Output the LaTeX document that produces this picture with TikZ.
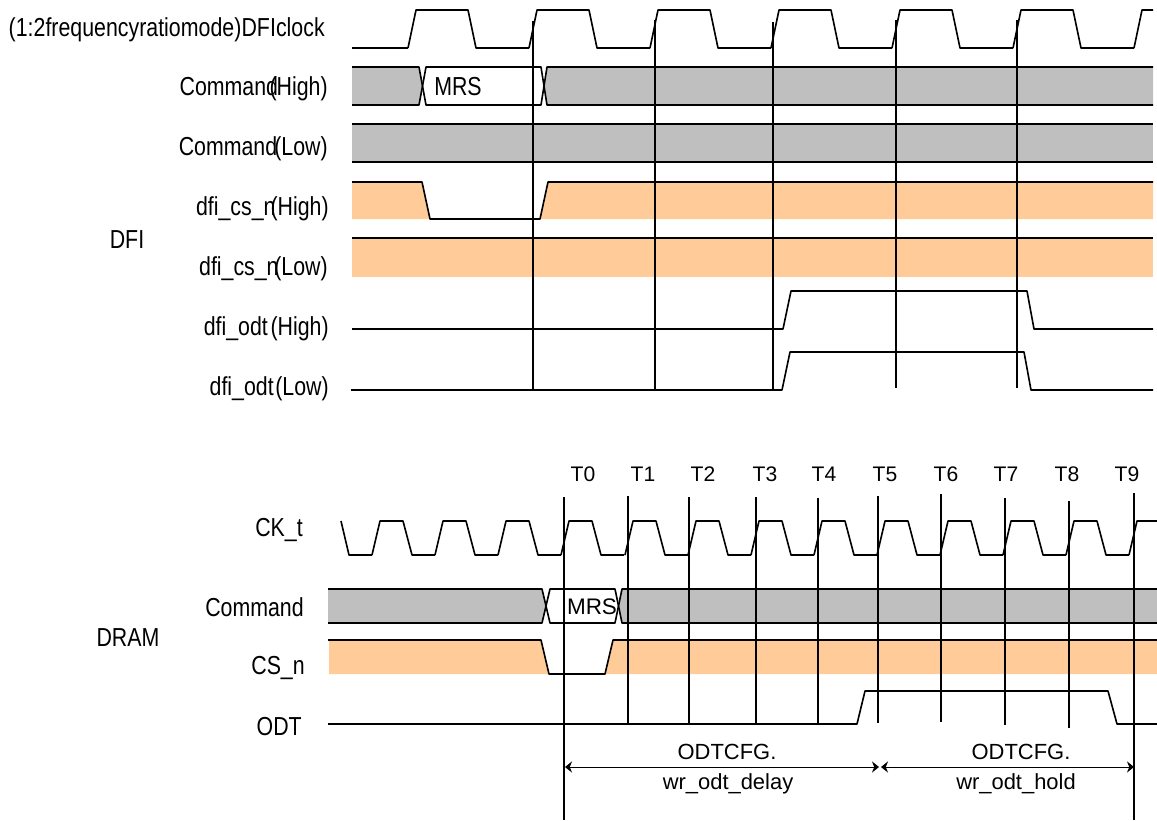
\documentclass[tikz,border=0pt]{standalone}
\usepackage{fontspec}
\setmainfont{Liberation Sans}
\newfontfamily\condfont[FakeStretch=0.82]{Liberation Sans}
\usetikzlibrary{arrows.meta}
\definecolor{busgray}{HTML}{BFBFBF}
\definecolor{csorange}{HTML}{FFCC99}
\newcommand{\sigfont}{\fontsize{18.5}{20}\condfont}
\newcommand{\wordgap}[2]{{\spaceskip=#1 plus 0pt\relax #2}}
\tikzset{
    sigline/.style={line width=1.15pt, line join=round},
    tickline/.style={line width=0.8pt},
    siglabel/.style={anchor=east, inner sep=0pt, font=\sigfont},
    grouplabel/.style={inner sep=0pt, font=\sigfont},
    ticklabel/.style={inner sep=0pt, font=\fontsize{15}{17}\selectfont},
    cfglabel/.style={inner sep=0pt, font=\fontsize{15.6}{18}\selectfont}
}

\begin{document}
\begin{tikzpicture}[x=0.025cm, y=-0.025cm, >={Stealth[length=5pt,width=8pt]}]
    \useasboundingbox (0, 0) rectangle (1157, 821);

    % DFI 的灰色和橙色底
    \fill[busgray] (352, 67) -- (419, 67) -- (423, 86) -- (419, 105) -- (352, 105) -- cycle;
    \fill[busgray] (1153, 67) -- (547, 67) -- (544, 86) -- (547, 105) -- (1153, 105) -- cycle;
    \fill[busgray] (352, 124) rectangle (1153, 162);
    \fill[csorange] (352, 182) -- (422, 182) -- (430, 219) -- (352, 219) -- cycle;
    \fill[csorange] (1153, 182) -- (548, 182) -- (540, 219) -- (1153, 219) -- cycle;
    \fill[csorange] (352, 238) rectangle (1153, 277);

    % DFI 时钟
    \draw[sigline] (352, 48) -- (408, 48);
    \foreach \x in {408, 529, 650, 771, 892, 1013} {
        \draw[sigline] (\x, 48) -- (\x+8, 10) -- (\x+60, 10) -- (\x+68, 48) -- (\x+121, 48);
    }
    \draw[sigline] (1134, 48) -- (1142, 10) -- (1153, 10);

    % DFI 命令
    \draw[sigline] (352, 67) -- (419, 67) -- (426, 105) -- (541, 105) -- (547, 67) -- (1153, 67);
    \draw[sigline] (352, 105) -- (419, 105) -- (426, 67) -- (541, 67) -- (547, 105) -- (1153, 105);
    \draw[sigline] (352, 124) -- (1153, 124);
    \draw[sigline] (352, 162) -- (1153, 162);

    % dfi_cs_n 和 dfi_odt
    \draw[sigline] (352, 182) -- (422, 182) -- (430, 219) -- (540, 219) -- (548, 182) -- (1153, 182);
    \draw[sigline] (352, 238) -- (1153, 238);
    \draw[sigline] (352, 329) -- (783, 329) -- (791, 291) -- (1027, 291) -- (1034, 329) -- (1153, 329);
    \draw[sigline] (351, 390) -- (782, 390) -- (790, 352) -- (1024, 352) -- (1031, 390) -- (1153, 390);

    % DFI 竖线
    \foreach \x/\top/\bot in {533/21/390, 655/20/390, 773/22/390, 896/20/388, 1017/20/388} {
        \draw[tickline] (\x, \top) -- (\x, \bot);
    }

    % DRAM 的灰色和橙色底
    \fill[busgray] (328, 589) -- (542, 589) -- (547, 606) -- (542, 623) -- (328, 623) -- cycle;
    \fill[busgray] (1157, 589) -- (622, 589) -- (618, 606) -- (622, 623) -- (1157, 623) -- cycle;
    \fill[csorange] (329, 640) -- (541, 640) -- (549, 674) -- (329, 674) -- cycle;
    \fill[csorange] (1157, 640) -- (613, 640) -- (605, 674) -- (1157, 674) -- cycle;

    % CK_t
    \draw[sigline] (341, 521) -- (349, 555) -- (372, 555);
    \foreach \x in {372, 435, 498, 561, 625, 688, 751, 814, 877, 940, 1003, 1066} {
        \draw[sigline] (\x, 555) -- (\x+8, 521) -- (\x+31, 521) -- (\x+40, 555) -- (\x+63, 555);
    }
    \draw[sigline] (1129, 555) -- (1137, 521) -- (1157, 521);

    % Command, CS_n, ODT
    \draw[sigline] (328, 589) -- (542, 589) -- (550, 623) -- (615, 623) -- (622, 589) -- (1157, 589);
    \draw[sigline] (328, 623) -- (542, 623) -- (550, 589) -- (615, 589) -- (622, 623) -- (1157, 623);
    \draw[sigline] (328, 640) -- (541, 640) -- (549, 674) -- (605, 674) -- (613, 640) -- (1157, 640);
    \draw[sigline] (328, 724) -- (857, 724) -- (865, 691) -- (1108, 691) -- (1117, 724) -- (1157, 724);

    % DRAM 竖线
    \foreach \x/\top/\bot in {628/496/724, 689/497/724, 756/497/724, 818/498/724, 878/496/723, 941/494/722, 1005/498/725, 1069/501/728} {
        \draw[tickline] (\x, \top) -- (\x, \bot);
    }
    \draw[tickline] (564, 497) -- (564, 820);
    \draw[line width=1.5pt] (1134, 493) -- (1134, 820);

    % 时间标注
    \foreach \x/\t in {583/T0, 643/T1, 703/T2, 765/T3, 824/T4, 885/T5, 946/T6, 1006/T7, 1067/T8, 1127/T9} {
        \node[ticklabel] (\t) at (\x, 474) {\t};
    }

    % 延迟和保持
    \coordinate (delayL) at (565, 767);
    \coordinate (delayR) at (879, 767);
    \coordinate (holdL) at (881, 767);
    \coordinate (holdR) at (1134, 767);
    \draw[<->, line width=0.7pt] (delayL) -- (delayR);
    \draw[<->, line width=0.7pt] (holdL) -- (holdR);
    \node[cfglabel] (delayA) at (727, 752) {ODTCFG.};
    \node[cfglabel] (delayB) at (728, 784) {wr\_odt\_delay};
    \node[cfglabel] (holdA) at (1021, 752) {ODTCFG.};
    \node[cfglabel] (holdB) at (1016, 784) {wr\_odt\_hold};

    % 总线文字
    \node[grouplabel] (mrsA) at (458, 87) {MRS};
    \node[inner sep=0pt, font=\fontsize{16}{18}\selectfont] (mrsB) at (592, 607) {MRS};

    % 信号名
    \node[siglabel] (dficlk) at (325, 30) {\wordgap{0.1pt}{(1:2 frequency ratio mode) DFI clock}};
    \node[siglabel] (cmdhi) at (328, 89) {\wordgap{-6pt}{Command (High)}};
    \node[siglabel] (cmdlo) at (328, 149) {\wordgap{-2pt}{Command (Low)}};
    \node[siglabel] (cshi) at (329, 209) {\wordgap{-3.5pt}{dfi\_cs\_n (High)}};
    \node[siglabel] (cslo) at (328, 269) {\wordgap{-3pt}{dfi\_cs\_n (Low)}};
    \node[siglabel] (odthi) at (329, 329) {\wordgap{2pt}{dfi\_odt (High)}};
    \node[siglabel] (odtlo) at (329, 389) {\wordgap{1.2pt}{dfi\_odt (Low)}};
    \node[grouplabel] (dfi) at (127, 240) {DFI};
    \node[grouplabel] (dram) at (128, 638) {DRAM};
    \node[siglabel] (ckt) at (303, 530) {CK\_t};
    \node[siglabel] (cmd) at (304, 607) {Command};
    \node[siglabel] (csn) at (305, 668) {CS\_n};
    \node[siglabel] (odt) at (302, 727) {ODT};
\end{tikzpicture}
\end{document}
